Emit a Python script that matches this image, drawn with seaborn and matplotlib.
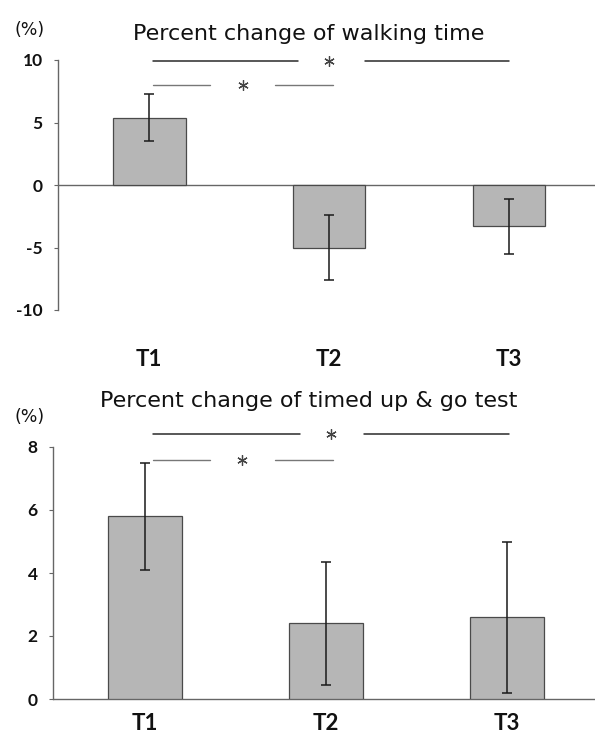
import matplotlib
matplotlib.use("Agg")
import matplotlib.pyplot as plt
import matplotlib.transforms as mtransforms
import seaborn as sns
import pandas as pd

categories = ["T1", "T2", "T3"]
walk_values = [5.4, -5.0, -3.3]
walk_errors = [1.9, 2.6, 2.2]
tug_values = [5.8, 2.4, 2.6]
tug_errors = [1.7, 1.95, 2.4]
walk_title = "Percent change of walking time"
tug_title = "Percent change of timed up & go test"
unit_label = "(%)"
walk_ticks = [-10, -5, 0, 5, 10]
tug_ticks = [0, 2, 4, 6, 8]

sns.set_theme(style="white")
plt.rcParams["font.family"] = ["Liberation Sans", "DejaVu Sans"]

W, H = 595, 748
fig = plt.figure(figsize=(W / 100, H / 100), dpi=100)
ax1 = fig.add_axes([58 / W, 1 - 310 / H, 1 - 58 / W, 250 / H])
ax2 = fig.add_axes([53 / W, 1 - 699 / H, 1 - 53 / W, 252 / H])

bar_color = "#b6b6b6"
edge = "#4a4a4a"
spine_c = "#666666"


def draw(ax, vals, errs, ylim, ticks, title, xlim, width,
         label_y_px, title_y_px, pct_y_px, title_size,
         hi_y, hi_segs, hi_star, lo_y, lo_segs, lo_star):
    df = pd.DataFrame({"cat": categories, "val": vals})
    sns.barplot(data=df, x="cat", y="val", ax=ax, color=bar_color, width=width,
                edgecolor=edge, linewidth=0.9, saturation=1)
    ax.errorbar(range(len(categories)), vals, yerr=errs, fmt="none", ecolor="#1a1a1a",
                elinewidth=1.1, capsize=3.5, capthick=1.1, zorder=4)
    ax.set_xlim(*xlim)
    ax.set_ylim(*ylim)
    ax.set_yticks(ticks)
    ax.set_yticklabels([str(t) for t in ticks], fontfamily="Lato", fontweight="bold",
                       fontsize=12.5)
    ax.set_xlabel("")
    ax.set_ylabel("")
    ax.set_xticks([])
    trans = mtransforms.blended_transform_factory(ax.transData, fig.transFigure)
    for c_i, c in enumerate(categories):
        ax.text(c_i, 1 - label_y_px / H, c, transform=trans, ha="center", va="center",
                fontsize=16, fontfamily="Lato", fontweight="bold", color="#111111")
    for s in ["top", "right", "bottom"]:
        ax.spines[s].set_visible(False)
    ax.spines["left"].set_color(spine_c)
    ax.spines["left"].set_linewidth(1.0)
    ax.axhline(0, color=spine_c, lw=1.0, zorder=0.5, clip_on=False)
    ax.tick_params(axis="y", left=True, length=3, width=0.8, color=spine_c, pad=8,
                   labelcolor="#111111")
    # significance brackets
    for seg in hi_segs:
        ax.plot(seg, [hi_y, hi_y], color="#2a2a2a", lw=1.1, clip_on=False)
    for seg in lo_segs:
        ax.plot(seg, [lo_y, lo_y], color="#777777", lw=1.0, clip_on=False)
    ax.plot([hi_star], [hi_y], marker=(6, 2, 0), ms=7.5, mew=0.9, color="#444444",
            clip_on=False, ls="none")
    ax.plot([lo_star], [lo_y], marker=(6, 2, 0), ms=7.5, mew=0.9, color="#444444",
            clip_on=False, ls="none")
    fig.text(309 / W, 1 - title_y_px / H, title, ha="center", va="baseline",
             fontsize=title_size, fontfamily="DejaVu Sans", color="#111111")
    fig.text(30 / W, 1 - pct_y_px / H, unit_label, ha="center", va="center",
             fontsize=12.5, fontfamily="DejaVu Sans", color="#111111")


draw(ax1, walk_values, walk_errors, (-10, 10), walk_ticks, walk_title,
     (-0.506, 2.478), 0.405,
     label_y_px=360, title_y_px=40, pct_y_px=30, title_size=16,
     hi_y=9.92, hi_segs=[[0.022, 0.83], [1.2, 2.0]], hi_star=1.0,
     lo_y=8.0, lo_segs=[[0.022, 0.34], [0.70, 1.02]], lo_star=0.52)
draw(ax2, tug_values, tug_errors, (0, 8), tug_ticks, tug_title,
     (-0.506, 2.486), 0.41,
     label_y_px=724, title_y_px=407, pct_y_px=417, title_size=16,
     hi_y=8.4, hi_segs=[[0.047, 0.86], [1.21, 2.01]], hi_star=1.03,
     lo_y=7.6, lo_segs=[[0.047, 0.36], [0.72, 1.04]], lo_star=0.54)

fig.savefig("out.png", dpi=100)
